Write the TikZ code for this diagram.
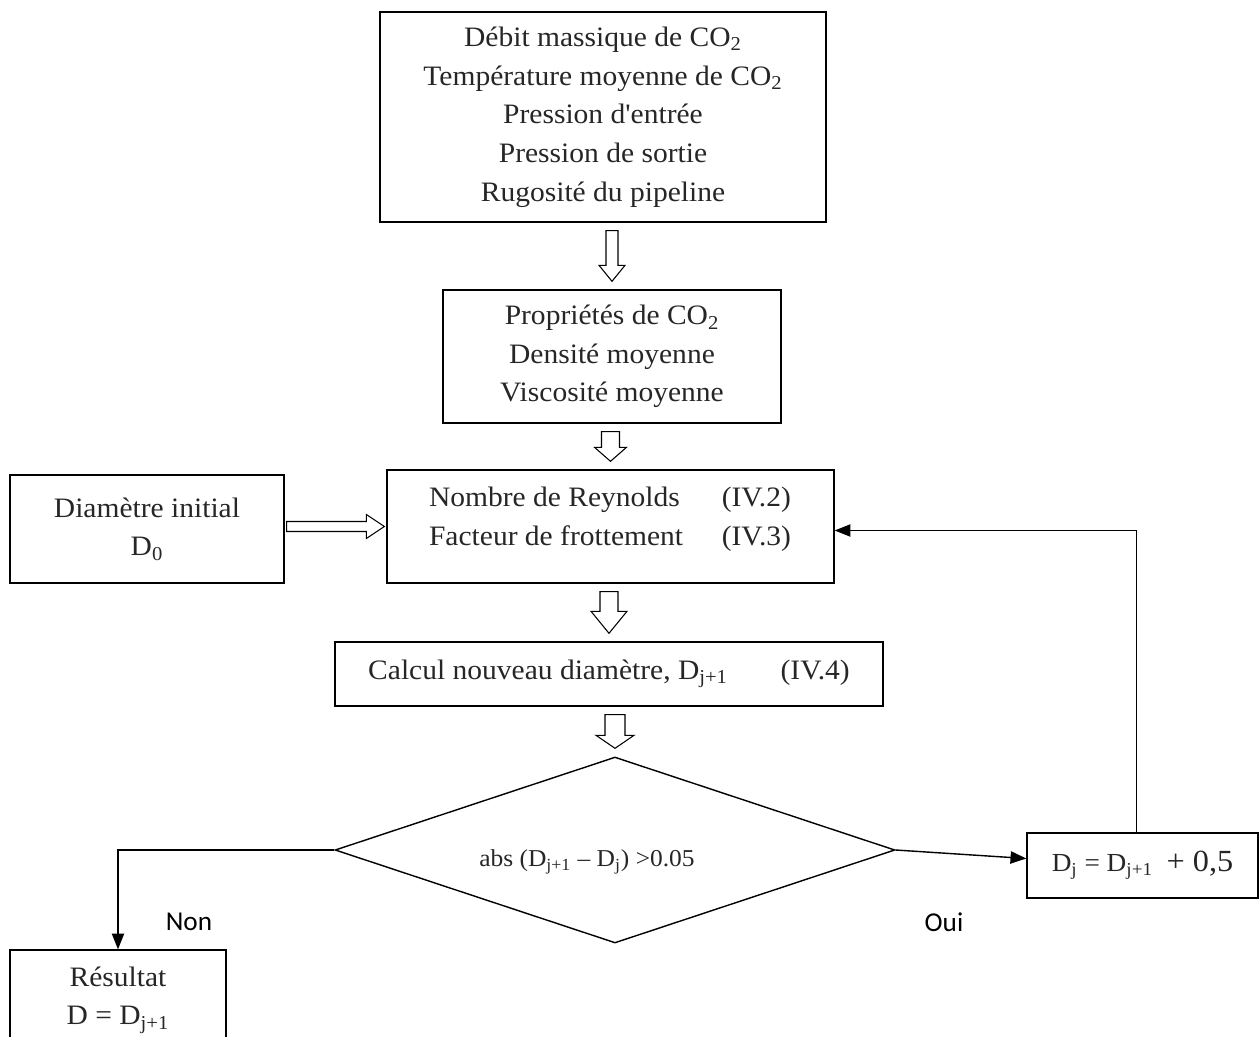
\documentclass[tikz,border=0pt]{standalone}
\usepackage{fontspec}
\setmainfont{Liberation Serif}[Ligatures=TeXOff, FakeStretch=1.05]
\newfontfamily\labelfont{Carlito}
\usepackage{tikz}
\usetikzlibrary{calc,shapes.geometric,arrows.meta}
\newlength{\pxl}
\setlength{\pxl}{0.02cm}
\tikzset{
	box/.style={rectangle, draw=black, line width=0.8pt, align=center, inner sep=0pt, font=\fontsize{16}{22}\selectfont, text=black!85},
	decision/.style={diamond, draw=black, line width=0.8pt, inner sep=0pt, aspect=3},
	txt/.style={inner sep=0pt, align=center, font=\fontsize{16}{22}\selectfont, text=black!85},
	hollow/.style={draw=black, line width=0.6pt, fill=white, line join=miter},
	flow/.style={draw=black, line width=0.8pt, -{Triangle[length=9pt, width=7pt]}},
}
% hollow down arrow: upper node, lower node, shaft half width, head half width, head length (px)
\newcommand{\hollowdown}[5]{%
	\draw[hollow] let \p1=(#1.south), \p2=(#2.north) in
		(\x2-#3*\pxl,\y1-8*\pxl) -- (\x2+#3*\pxl,\y1-8*\pxl) -- (\x2+#3*\pxl,\y2+8*\pxl+#5*\pxl)
		-- (\x2+#4*\pxl,\y2+8*\pxl+#5*\pxl) -- (\x2,\y2+8*\pxl) -- (\x2-#4*\pxl,\y2+8*\pxl+#5*\pxl)
		-- (\x2-#3*\pxl,\y2+8*\pxl+#5*\pxl) -- cycle;}

\begin{document}
\begin{tikzpicture}[x={(0.02cm,0)}, y={(0,-0.02cm)}]
	\useasboundingbox (0,0) rectangle (1260,1037);
	% boxes
	\node[box, minimum width=8.92cm, minimum height=4.2cm] (inputs) at (603,117) {Débit massique de CO\textsubscript{2}\\Température moyenne de CO\textsubscript{2}\\Pression d'entrée\\Pression de sortie\\Rugosité du pipeline};
	\node[box, minimum width=6.76cm, minimum height=2.66cm] (props) at (612,356.5) {Propriétés de CO\textsubscript{2}\\Densité moyenne\\Viscosité moyenne};
	\node[box, minimum width=8.94cm, minimum height=2.26cm] (reyn) at (610.5,526.5) {};
	\node[txt] (reyntext) at (610,518) {\begin{tabular}{@{}l@{\hspace{22pt}}l@{}}Nombre de Reynolds & (IV.2)\\Facteur de frottement & (IV.3)\end{tabular}};
	\node[box, minimum width=5.48cm, minimum height=2.16cm] (init) at (147,529) {Diamètre initial\\D\textsubscript{0}};
	\node[box, minimum width=10.96cm, minimum height=1.28cm] (calc) at (609,674) {Calcul nouveau diamètre, D\textsubscript{j+1}\hspace{30pt}(IV.4)};
	\node[decision, minimum width=11.2cm, minimum height=3.72cm] (test) at (615,850) {};
	\node[txt, font=\fontsize{13.8}{22}\selectfont] (testtext) at (587,862) {abs (D\textsubscript{j+1} – D\textsubscript{j}) >0.05};
	\node[box, font=\fontsize{14.8}{22}\selectfont, minimum width=4.62cm, minimum height=1.3cm] (update) at (1142.5,865.5) {D\textsubscript{j} = D\textsubscript{j+1}\ \ {\fontsize{17.5}{22}\selectfont + 0,5}};
	\node[box, minimum width=4.32cm, minimum height=2cm] (result) at (118,1000) {Résultat\\D = D\textsubscript{j+1}};
	% labels
	\node[txt, font=\labelfont\fontsize{15.5}{18}\selectfont, text=black] (non) at (189,922) {Non};
	\node[txt, font=\labelfont\fontsize{15.5}{18}\selectfont, text=black] (oui) at (944,922) {Oui};
	% hollow arrows
	\hollowdown{inputs}{props}{6}{13}{16}
	\hollowdown{props}{reyn}{9}{16}{14}
	\hollowdown{reyn}{calc}{9}{18}{22}
	\hollowdown{calc}{test}{10}{19}{13}
	\draw[hollow] let \p1=(init.east), \p2=(reyn.west) in
		(\x1+2*\pxl,\y2+5*\pxl) -- (\x2-20*\pxl,\y2+5*\pxl) -- (\x2-20*\pxl,\y2+12*\pxl) -- (\x2-2*\pxl,\y2)
		-- (\x2-20*\pxl,\y2-12*\pxl) -- (\x2-20*\pxl,\y2-5*\pxl) -- (\x1+2*\pxl,\y2-5*\pxl) -- cycle;
	% flow lines
	\draw[flow] (test.west) -| (result.north);
	\draw[flow] (test.east) -- ($(update.west)+(0,-7)$);
	\draw[flow] ($(update.north)+(-6,0)$) |- ($(reyn.east)+(0,4)$);
\end{tikzpicture}
\end{document}
